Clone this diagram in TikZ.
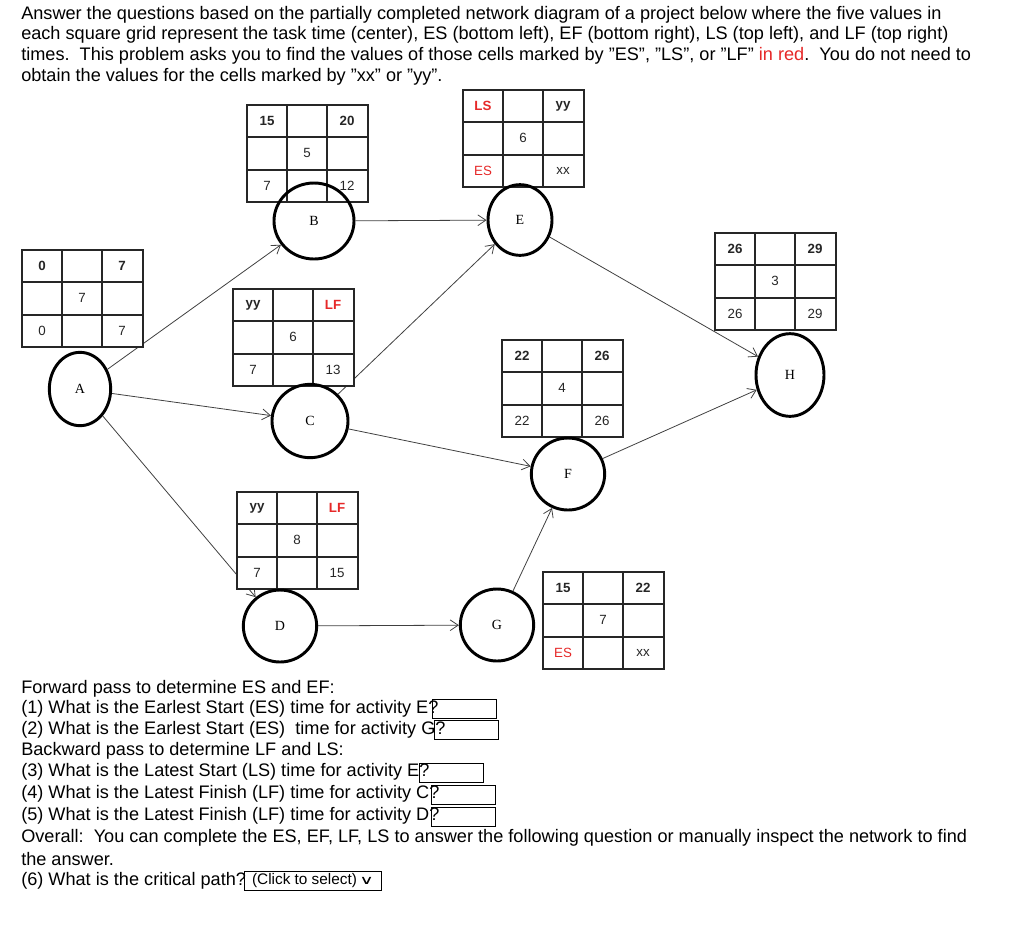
\documentclass[tikz,border=0pt]{standalone}
\usepackage{fontspec}
\setmainfont{Liberation Sans}[Ligatures=ResetAll]
\newfontfamily\nodefont{Liberation Serif}
\usetikzlibrary{arrows.meta,shapes.geometric,backgrounds}
\definecolor{redt}{RGB}{230,40,40}
\newcommand{\pgrid}[7]{%
 \draw[gridline,fill=white] (#1,#2) rectangle ++(121,97);
 \draw[gridline] (#1+40,#2) -- ++(0,97) (#1+80,#2) -- ++(0,97) (#1,#2+32) -- ++(121,0) (#1,#2+65) -- ++(121,0);
 \node[gt,font=\bfseries\fontsize{10}{11}\selectfont] at (#1+20,#2+16) {#3};
 \node[gt,font=\bfseries\fontsize{10}{11}\selectfont] at (#1+100,#2+16) {#4};
 \node[gt] at (#1+60,#2+48) {#5};
 \node[gt] at (#1+20,#2+81) {#6};
 \node[gt] at (#1+100,#2+81) {#7};}
\newcommand{\qq}{\symbol{34}}
\begin{document}
\begin{tikzpicture}[x=0.75pt,y=-0.75pt,
 gridline/.style={draw=black!85,line width=0.9pt},
 gt/.style={font=\fontsize{10}{11}\selectfont,text=black!85},
 act/.style={ellipse,draw,line width=2.2pt,font=\nodefont\fontsize{10.5}{12}\selectfont,inner sep=0pt},
 edge/.style={draw=black!75,line width=0.6pt,-{Straight Barb[length=6pt,width=8pt]}},
 txt/.style={anchor=west,inner sep=0pt,font=\fontsize{13.6}{16}\selectfont},
 abox/.style={draw,line width=0.6pt,anchor=west,minimum width=48pt,minimum height=14pt,inner sep=0pt}]
\useasboundingbox (0,0) rectangle (1024,926);
\node[txt] at (21,15) {Answer the questions based on the partially completed network diagram of a project below where the five values in};
\node[txt] at (21,35) {each square grid represent the task time (center), ES (bottom left), EF (bottom right), LS (top left), and LF (top right)};
\node[txt] at (21,56) {times.\ \ This problem asks you to find the values of those cells marked by \qq ES\qq, \qq LS\qq, or \qq LF\qq\ \textcolor{redt}{in red}.\ \ You do not need to};
\node[txt] at (21,77) {obtain the values for the cells marked by \qq xx\qq\ or \qq yy\qq.};
% grids
\pgrid{22}{250}{0}{7}{7}{0}{7}
\pgrid{247}{105}{15}{20}{5}{7}{12}
\pgrid{233}{289}{yy}{\textcolor{redt}{LF}}{6}{7}{13}
\pgrid{463}{90}{\textcolor{redt}{LS}}{yy}{6}{\textcolor{redt}{ES}}{xx}
\pgrid{715}{233}{26}{29}{3}{26}{29}
\pgrid{502}{340}{22}{26}{4}{22}{26}
\pgrid{237}{492}{yy}{\textcolor{redt}{LF}}{8}{7}{15}
\pgrid{543}{572}{15}{22}{7}{\textcolor{redt}{ES}}{xx}
% activity nodes
\node[act,minimum width=46pt,minimum height=55pt] (A) at (80,389) {A};
\node[act,minimum width=60pt,minimum height=57pt] (B) at (314,221) {B};
\node[act,minimum width=57pt,minimum height=55pt] (C) at (310,421) {C};
\node[act,minimum width=48pt,minimum height=53pt] (E) at (520,220) {E};
\node[act,minimum width=51pt,minimum height=62pt] (H) at (790,375) {H};
\node[act,minimum width=55pt,minimum height=54pt] (F) at (568,474) {F};
\node[act,minimum width=55pt,minimum height=54pt] (D) at (280,626) {D};
\node[act,minimum width=55pt,minimum height=54pt] (G) at (497,625) {G};
% connectors
\begin{scope}[on background layer]
\draw[edge] (A) -- (B);
\draw[edge] (A) -- (C);
\draw[edge] (A) -- (D);
\draw[edge] (B) -- (E);
\draw[edge] (C) -- (E);
\draw[edge] (C) -- (F);
\draw[edge] (D) -- (G);
\draw[edge] (G) -- (F);
\draw[edge] (E) -- (H);
\draw[edge] (F) -- (H);
\end{scope}
% questions
\node[txt] at (21,689) {Forward pass to determine ES and EF:};
\node[txt] (q1) at (21,709) {(1) What is the Earlest Start (ES) time for activity E?};
\node[abox] (b1) at (432,709) {};
\node[txt] (q2) at (21,730) {(2) What is the Earlest Start (ES) \ time for activity G?};
\node[abox] (b2) at (434,730) {};
\node[txt] at (21,751) {Backward pass to determine LF and LS:};
\node[txt] (q3) at (21,772) {(3) What is the Latest Start (LS) time for activity E?};
\node[abox] (b3) at (419,773) {};
\node[txt] (q4) at (21,794) {(4) What is the Latest Finish (LF) time for activity C?};
\node[abox] (b4) at (431,795) {};
\node[txt] (q5) at (21,816) {(5) What is the Latest Finish (LF) time for activity D?};
\node[abox] (b5) at (431,817) {};
\node[txt] at (21,838) {Overall:\ \ You can complete the ES, EF, LF, LS to answer the following question or manually inspect the network to find};
\node[txt] at (21,859) {the answer.};
\node[txt] (q6) at (21,881) {(6) What is the critical path?};
\node[draw,line width=0.6pt,anchor=west,minimum width=103pt,minimum height=14pt,inner sep=2pt,font=\fontsize{11.5}{12}\selectfont] (sel) at (244,881) {(Click to select)\,\fontspec{DejaVu Sans}\scalebox{1.3}[0.8]{∨}};
\end{tikzpicture}
\end{document}
